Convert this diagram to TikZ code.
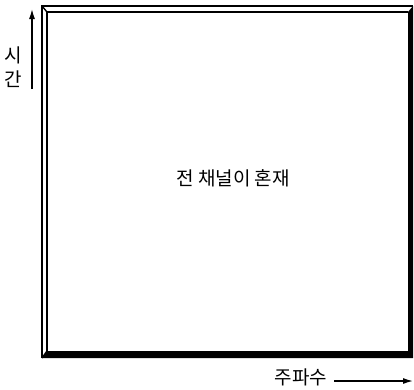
\documentclass[tikz,border=0pt]{standalone}
\usepackage{fontspec}
\newfontfamily\kr{Noto Sans CJK KR}
\usetikzlibrary{arrows.meta}
\begin{document}
\begin{tikzpicture}[x=1pt,y=-1pt,
  lbl/.style={font=\kr\fontsize{19}{21}\selectfont, inner sep=0pt},
  axisarrow/.style={line width=1.3pt,-{Latex[length=10pt,width=6pt]}},
  bevel/.style={line width=1.4pt, line join=miter}]
\useasboundingbox (0,0) rectangle (414,389);
% frame corners
\coordinate (oTL) at (42,6);
\coordinate (oTR) at (413,6);
\coordinate (oBR) at (413,358);
\coordinate (oBL) at (42,358);
\coordinate (iTL) at (47,12);
\coordinate (iTR) at (408,12);
\coordinate (iBR) at (408,351);
\coordinate (iBL) at (47,351);
% dark right and bottom sides
\fill[black] (oTR) -- (oBR) -- (oBL) -- (iBL) -- (iBR) -- (iTR) -- cycle;
% light left and top bevel
\draw[bevel] (oBL) -- (oTL) -- (oTR);
\draw[bevel] (iBL) -- (iTL) -- (iTR);
\draw[bevel] (oTL) -- (iTL);
\draw[bevel] (oBL) -- (iBL);
% labels
\node[lbl] (center) at (233,178) {전 채널이 혼재};
\node[lbl] (si) at (13,55) {시};
\node[lbl] (gan) at (13,79) {간};
\node[lbl] (freq) at (301,377) {주파수};
% axis arrows
\coordinate (tA) at (32,89);
\coordinate (tB) at (32,9);
\coordinate (fA) at (334,381);
\coordinate (fB) at (413,381);
\draw[axisarrow] (tA) -- (tB);
\draw[axisarrow] (fA) -- (fB);
\end{tikzpicture}
\end{document}
